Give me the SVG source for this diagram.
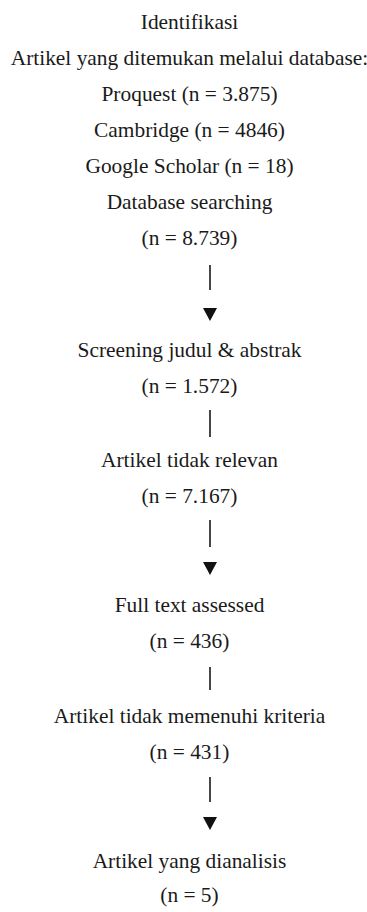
<svg xmlns="http://www.w3.org/2000/svg" width="367" height="912" viewBox="0 0 367 912">
<style>
text{font-family:"Liberation Serif","Times New Roman",serif;font-size:21.4px;fill:#1a1a1a;text-anchor:middle}
.bar{stroke:#1a1a1a;stroke-width:1.6}
.tri{fill:#111}
</style>
<rect width="367" height="912" fill="#fff"/>
<g id="identifikasi">
<text x="189.5" y="29">Identifikasi</text>
<text x="189.5" y="65">Artikel yang ditemukan melalui database:</text>
<text x="189.5" y="101">Proquest (n = 3.875)</text>
<text x="189.5" y="137">Cambridge (n = 4846)</text>
<text x="189.5" y="173">Google Scholar (n = 18)</text>
<text x="189.5" y="209">Database searching</text>
<text x="189.5" y="245">(n = 8.739)</text>
</g>
<g id="screening">
<text x="189.5" y="357">Screening judul &amp; abstrak</text>
<text x="189.5" y="393">(n = 1.572)</text>
</g>
<g id="tidak-relevan">
<text x="189.5" y="467">Artikel tidak relevan</text>
<text x="189.5" y="503">(n = 7.167)</text>
</g>
<g id="full-text">
<text x="189.5" y="612">Full text assessed</text>
<text x="189.5" y="648">(n = 436)</text>
</g>
<g id="tidak-memenuhi">
<text x="189.5" y="723">Artikel tidak memenuhi kriteria</text>
<text x="189.5" y="759">(n = 431)</text>
</g>
<g id="dianalisis">
<text x="189.5" y="868">Artikel yang dianalisis</text>
<text x="189.5" y="902">(n = 5)</text>
</g>
<g id="connectors">
<line class="bar" x1="210" y1="265" x2="210" y2="290"/>
<polygon class="tri" points="203,308 217,308 210,321"/>
<line class="bar" x1="210" y1="410" x2="210" y2="437"/>
<line class="bar" x1="210" y1="520" x2="210" y2="547"/>
<polygon class="tri" points="203,562 217,562 210,575"/>
<line class="bar" x1="210" y1="667" x2="210" y2="690"/>
<line class="bar" x1="210" y1="777" x2="210" y2="802"/>
<polygon class="tri" points="203,817 217,817 210,830"/>
</g>
</svg>
